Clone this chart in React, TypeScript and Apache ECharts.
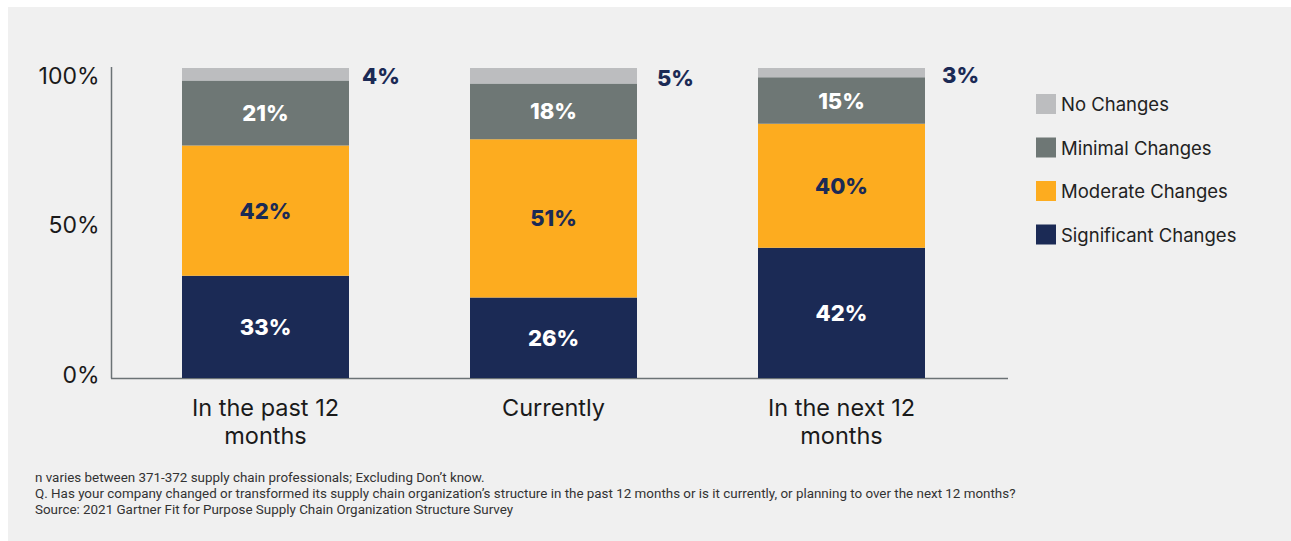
import React, { useEffect, useRef } from "react";
import * as echarts from "echarts";

const categories = ["In the past 12\nmonths", "Currently", "In the next 12\nmonths"];
const seriesNames = ["Significant Changes", "Moderate Changes", "Minimal Changes", "No Changes"];
const significant = [33, 26, 42];
const moderate = [42, 51, 40];
const minimal = [21, 18, 15];
const noChanges = [4, 5, 3];
const yTicks = [0, 50, 100];
const footnotes = [
  "n varies between 371-372 supply chain professionals; Excluding Don\u2019t know.",
  "Q. Has your company changed or transformed its supply chain organization\u2019s structure in the past 12 months or is it currently, or planning to over the next 12 months?",
  "Source: 2021 Gartner Fit for Purpose Supply Chain Organization Structure Survey",
];

const FONT = "Inter, 'Noto Sans', sans-serif";
const NAVY = "#1b2a55";
const colors = [NAVY, "#fdac1f", "#6e7775", "#bcbdbf"];
const outsideDistances = [13, 20, 17];

export default function App() {
  const ref = useRef<HTMLDivElement>(null);
  useEffect(() => {
    if (!ref.current) return;
    const chart = echarts.init(ref.current, undefined, { renderer: "svg" });
    const dataSets = [significant, moderate, minimal, noChanges];
    const labelColors = ["#ffffff", NAVY, "#ffffff", NAVY];
    const series = dataSets.map((d, i) => ({
      name: seriesNames[i],
      type: "bar",
      stack: "total",
      barWidth: 167,
      data:
        i === 3
          ? d.map((v, j) => ({ value: v, label: { distance: outsideDistances[j] } }))
          : d,
      itemStyle: { color: colors[i] },
      label: {
        show: true,
        position: i === 3 ? "right" : "inside",
        distance: 13,
        offset: i === 3 ? [0, 2] : [0, 0],
        formatter: "{c}%",
        color: labelColors[i],
        fontFamily: FONT,
        fontWeight: 800,
        fontSize: 22,
      },
    }));
    const axisColor = "#6b7275";
    const yl = { fontFamily: FONT, fontSize: 23, color: "#1a1a1a" };
    chart.setOption({
      animation: false,
      backgroundColor: "#ffffff",
      color: colors,
      grid: { left: 121.5, right: 305.5, top: 68, bottom: 163 },
      legend: {
        orient: "vertical",
        left: 1036,
        top: 94,
        padding: 0,
        itemWidth: 20,
        itemHeight: 20,
        itemGap: 23.5,
        icon: "rect",
        data: ["No Changes", "Minimal Changes", "Moderate Changes", "Significant Changes"],
        textStyle: { fontFamily: FONT, fontSize: 18.5, color: "#222222" },
      },
      xAxis: {
        type: "category",
        data: categories,
        axisLine: { show: false },
        axisTick: { show: false },
        axisLabel: {
          margin: 15,
          fontFamily: FONT,
          fontSize: 23.5,
          lineHeight: 28,
          color: "#1a1a1a",
        },
      },
      yAxis: {
        type: "value",
        min: 0,
        max: 100,
        interval: 50,
        splitLine: { show: false },
        axisLine: { show: false },
        axisTick: { show: false },
        axisLabel: {
          margin: 22,
          formatter: (v: number) => {
            if (!yTicks.includes(v)) return "";
            if (v === 100) return "{a|" + v + "%}";
            if (v === 0) return "{c|" + v + "%}";
            return "{b|" + v + "%}";
          },
          rich: {
            a: { ...yl, padding: [16, 0, 0, 0] },
            b: { ...yl, padding: [4, 0, 0, 0] },
            c: { ...yl, padding: [0, 0, 6, 0] },
          },
        },
      },
      graphic: [
        {
          type: "rect",
          z: -10,
          shape: { x: 8, y: 7, width: 1283, height: 534 },
          style: { fill: "#f0f0f0" },
          silent: true,
        },
        {
          type: "line",
          shape: { x1: 111.5, y1: 67, x2: 111.5, y2: 378.5 },
          style: { stroke: axisColor, lineWidth: 1.5 },
        },
        {
          type: "line",
          shape: { x1: 111, y1: 378.5, x2: 1008, y2: 378.5 },
          style: { stroke: axisColor, lineWidth: 1.5 },
        },
        ...footnotes.map((t, i) => ({
          type: "text",
          left: 35,
          top: 470.5 + i * 16,
          style: {
            text: t,
            fill: "#333333",
            fontFamily: "Roboto, 'Liberation Sans', sans-serif",
            fontSize: 13.4,
          },
        })),
      ],
      series,
    });
    return () => chart.dispose();
  }, []);
  return (
    <div
      ref={ref}
      style={{ position: "fixed", left: 0, top: 0, width: 1291, height: 541 }}
    />
  );
}
